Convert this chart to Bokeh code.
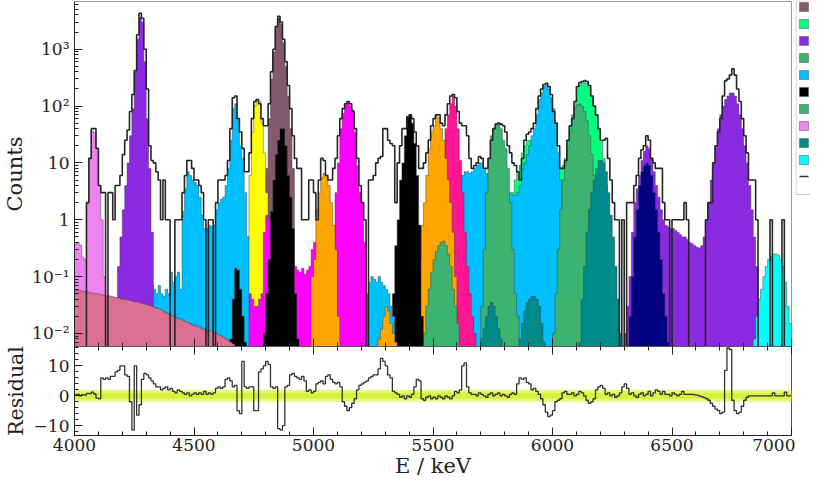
from bokeh.plotting import figure
from bokeh.layouts import column, row
from bokeh.models import (Range1d, LinearAxis, BoxAnnotation,
                          CustomJSTickFormatter, SingleIntervalTicker)
from bokeh.embed import file_html
from bokeh.resources import INLINE

E_START = 4000
BIN_WIDTH = 10
FLOOR = 1e-3
SERIF = "DejaVu Serif"

# ---------------- measured spectrum (counts per 10 keV bin, 4000-7000 keV) -------------
data_counts = [
    0, 0, 0, 0, 0, 2, 12, 40, 40, 18,
    4, 3, 3, 0, 3, 3, 1, 4, 4, 6,
    14, 25, 38, 80, 160, 420, 1800, 4300, 3500, 1000,
    200, 20, 11, 10, 7, 5, 1, 5, 1, 1,
    0, 0, 1, 1, 1, 3, 6, 11, 11, 8,
    5, 5, 4, 3, 1, 0, 1, 1, 0, 2,
    5, 5, 5, 6, 11, 40, 140, 150, 60, 35,
    18, 7, 7, 15, 60, 120, 130, 110, 60, 45,
    45, 110, 400, 1000, 2500, 3800, 3000, 1500, 600, 230,
    90, 30, 12, 8, 8, 1, 1, 1, 5, 5,
    3, 1, 5, 12, 11, 6, 5, 5, 8, 12,
    30, 60, 90, 110, 120, 110, 80, 40, 12, 4,
    2, 1, 0, 5, 5, 6, 10, 12, 13, 40,
    40, 25, 22, 20, 2, 10, 20, 40, 40, 65,
    70, 60, 35, 20, 8, 8, 10, 15, 25, 45,
    60, 70, 70, 50, 45, 70, 110, 150, 160, 140,
    80, 50, 45, 45, 30, 12, 8, 9, 10, 13,
    12, 8, 8, 12, 25, 40, 48, 50, 48, 45,
    35, 20, 15, 10, 9, 7, 5, 12, 25, 32,
    35, 40, 50, 90, 150, 200, 240, 250, 220, 160,
    80, 50, 20, 8, 8, 11, 25, 45, 60, 120,
    220, 260, 270, 280, 270, 230, 150, 100, 70, 40,
    25, 25, 27, 12, 5, 2, 1, 1, 0, 1,
    0, 2, 2, 2, 4, 6, 12, 17, 20, 30,
    25, 12, 10, 8, 8, 8, 2, 1, 1, 0,
    1, 1, 1, 1, 1, 2, 1, 0, 0, 0,
    0, 0, 0, 0, 1, 2, 2, 10, 20, 35,
    60, 150, 280, 300, 350, 450, 350, 200, 120, 60,
    30, 15, 5, 5, 5, 1, 0, 0, 0, 0,
    0, 1, 0, 0, 0, 0, 1, 0, 0, 0,
]

residuals = [
    0.3, 0.5, 0, 0.4, 0.2, 0.8, 0.7, 1.2, 0.6, -0.8,
    -1, 6, 5.5, 6, 5.5, 6.5, 6.5, 8, 8.5, 10,
    10, 7, 6.5, -2, -11.5, 10, -6.5, -3, 5.5, 7.5,
    7, 6, 5, 4, 3, 3, 2, 2.5, 3, 2,
    2.5, 1.5, 1, 2, 1.5, 1, 0.5, 1, 0, 0.5,
    1, 0.5, 1, 0.5, 1.5, 0.5, 1, 0.5, 1, 2.5,
    3, 2.5, 3, 5.5, 6, 5, 3, 3.5, -5, -6,
    11.5, 3, 2.5, 3, 3, -5, -5, 8, 9, 10,
    11.5, 10.5, 3, 2.5, 3, -11, -11.5, -10, 3, 3.5,
    7, 7.5, 6.5, 6, 5.5, 6.5, 5, 1.5, 2, 1,
    1.5, 4, 4.5, 5, 4, 6.5, 7, 5.5, 4.5, 4,
    4.5, 3, -2, -3.5, -5, -4, -2.5, -1, 2, 3.5,
    4, 4.5, 5, 6, 6.5, 7, 7, 9, 12.5, 11.5,
    10, 7, 6, 1.5, 1, 0.5, -0.5, 0, -1, 0,
    -0.5, 0.5, 3, 5.5, 5, -1, -1.5, -0.5, 0, -1,
    -0.5, -1, 0, -0.5, -1, 0, -0.5, -1, 0, 1.5,
    1, 2, 10, 11, 3, 1, 0.5, 0.5, 0, 1,
    0.5, 0, -0.5, 0.5, 1, 0, 0.5, 1, 0, 0.5,
    0, -0.5, 0.5, 1, 0.5, 4, 6, 5.5, 6, 4.5,
    4, 2, 2.5, 1.5, 0.5, -1, -3, -5.5, -7, -6.5,
    -5, -2, -1.5, -1, 1, 1.5, 0.5, 0.5, 1, 0,
    0.5, 1.5, 1, 0, -1.5, -2.5, -2, -1, 2, 3,
    3.5, 2.5, 0.5, 1, 0, 0.5, -0.5, 0, 1, 3,
    4, 2.5, 0.5, 1, 0, -0.5, 0.5, 1, 0, 0.5,
    1.5, 0, 1, 2, 1.5, 0.5, 1.5, 0.5, 0.5, 0,
    1, 0.5, 0, 0.5, 1.5, 0.5, 0.5, 0.5, 0.5, 0.3,
    0.2, 0, -0.3, -0.6, -1, -1.5, -2.5, -3.5, -4.5, -5,
    -6, -5.5, 8.5, 16, 15.5, -1.5, -5, -6, -5.5, -3.5,
    -1.5, -0.5, 0, 0, 0, 0, 0, 0, 0, 0,
    0, 0, 1, 0, 0, 0, 0, 1.2, 0, 0,
]
band_2sigma = 2
band_1sigma = 1

# ---------------- fitted components (first bin, visible top per bin) ----------------
bg_first = 0
bg_vals = [0.058, 0.057, 0.057, 0.055, 0.054, 0.054, 0.052, 0.051, 0.050, 0.050,
           0.049, 0.048, 0.047, 0.046, 0.046, 0.045, 0.044, 0.043, 0.042, 0.041,
           0.040, 0.040, 0.039, 0.038, 0.037, 0.036, 0.036, 0.035, 0.034, 0.033,
           0.032, 0.031, 0.030, 0.029, 0.028, 0.027, 0.026, 0.024, 0.023, 0.022,
           0.021, 0.020, 0.019, 0.018, 0.018, 0.017, 0.016, 0.016, 0.015, 0.014,
           0.014, 0.013, 0.013, 0.012, 0.012, 0.011, 0.011, 0.011, 0.010, 0.010,
           0.0095, 0.009, 0.0085, 0.008, 0.0075, 0.007, 0.0065]
violet_first = 0
violet_vals = [0.38, 0.40, 0.36, 0.22, 0.2, 2, 12, 36, 34, 18, 4, 1, 0.1]
bviolet1_first = 18
bviolet1_vals = [0.15, 0.5, 1.5, 4, 10, 30, 90, 400, 1500, 3600, 3000, 600, 60, 8, 0.6]
sky1_first = 25
sky1_vals = [0.05, 0.06, 0.07, 0.05, 0.06, 0.1, 0.08, 0.07, 0.06, 0.05,
             0.07, 0.05, 0.045, 0.06, 0.05, 0.12, 0.08, 0.1, 0.12, 0.06,
             1.4, 3.5, 7, 6, 5, 4.5, 4, 2.5, 1.2, 0.7,
             0.7, 0.8, 0.75, 0.8, 1.5, 2, 2.3, 2.5, 4, 8,
             25, 90, 110, 55, 20, 12, 3, 0.5]
black0_first = 65
black0_vals = [0.008, 0.04, 0.14, 0.13, 0.06, 0.02, 0.007]
yellow_first = 71
yellow_vals = [0.02, 0.5, 6, 35, 100, 130, 120, 50, 15, 3, 0.6, 0.08]
mauve_first = 79
mauve_vals = [0.5, 8, 60, 300, 900, 2400, 3500, 2800, 1300, 500, 150, 40, 8, 0.1]
black1_first = 79
black1_vals = [0.01, 0.05, 0.2, 1.4, 5, 14, 25, 40, 40, 20, 6, 2.5, 0.7, 0.05, 0.008]
magenta_first = 72
magenta_vals = [0.02, 0.05, 0.04, 0.03, 0.03, 0.04, 0.05, 0.6, 1.2, 1.0,
                0.8, 0.6, 0.4, 0.3, 0.3, 0.3, 0.35, 0.3, 0.25, 0.2,
                0.15, 0.13, 0.12, 0.14, 0.11, 0.13, 0.15, 0.3, 0.4, 0.3,
                0.2, 0.15, 0.1, 0.1, 0.12, 0.2, 0.5, 3, 10, 40,
                75, 110, 115, 100, 85, 35, 9, 3, 2, 0.4, 0.05]
orange1_first = 99
orange1_vals = [0.1, 0.2, 1.5, 3, 5.5, 6.5, 6, 4, 2, 0.8, 0.3, 0.02]
sky3_first = 122
sky3_vals = [0.03, 0.08, 0.1, 0.09, 0.08, 0.1, 0.08, 0.07, 0.06, 0.05, 0.03, 0.02]
orange3_first = 127
orange3_vals = [0.008, 0.012, 0.02, 0.03, 0.025, 0.015, 0.01, 0.007]
black2_first = 132
black2_vals = [0.01, 0.05, 0.35, 1, 5, 10, 30, 65, 70, 50, 22, 6, 0.8, 0.02]
orange2_first = 143
orange2_vals = [0.03, 0.2, 0.8, 2, 6, 18, 35, 45, 65, 62, 40, 25, 12, 5, 2, 0.6, 0.1]
green1_first = 146
green1_vals = [0.01, 0.03, 0.06, 0.12, 0.2, 0.28, 0.35, 0.4, 0.42, 0.35, 0.25, 0.15, 0.06, 0.03, 0.015]
pink_first = 153
pink_vals = [0.5, 10, 40, 70, 110, 150, 100, 40, 11, 3, 0.6, 0.15, 0.05, 0.02, 0.01]
sky2_first = 155
sky2_vals = [0.3, 0.6, 1, 1.5, 2, 3, 5, 6, 7, 7,
             6.5, 7, 8, 9, 10, 10, 8, 6.5, 5, 4,
             3, 2.5, 2, 2, 2, 2.5, 3, 3, 2.7, 2.7,
             3, 4, 8, 10, 14, 20, 30, 40, 70, 130,
             170, 220, 230, 200, 140, 90, 50, 15, 5, 1.5,
             0.5, 0.1, 0.02]
green2_first = 170
green2_vals = [0.03, 0.3, 3, 12, 30, 40, 45, 48, 40, 25, 18, 8, 2, 0.3, 0.05, 0.02]
teal1_first = 170
teal1_vals = [0.008, 0.012, 0.02, 0.03, 0.035, 0.03, 0.02, 0.012, 0.008]
teal2_first = 186
teal2_vals = [0.008, 0.015, 0.025, 0.035, 0.04, 0.045, 0.045, 0.04, 0.03, 0.015, 0.007]
spring_first = 183
spring_vals = [3, 5, 7, 9, 15, 20, 25, 25, 22, 20,
               18, 16, 14, 12, 11, 10, 10, 10, 9, 8,
               8, 9, 12, 25, 45, 60, 120, 200, 240, 255,
               260, 250, 210, 150, 100, 70, 40, 25, 12, 4,
               1, 0.2]
green3_first = 200
green3_vals = [0.01, 0.05, 0.3, 1.5, 5, 10, 18, 35, 70, 95,
               105, 110, 100, 80, 55, 30, 14, 6, 2, 0.5, 0.1]
teal3_first = 211
teal3_vals = [0.007, 0.04, 0.15, 0.6, 1.5, 3, 5, 8, 11, 11, 10, 7, 3, 1.2, 0.5, 0.15, 0.04, 0.01]
navy_first = 232
navy_vals = [0.02, 0.1, 0.5, 1.5, 4, 7, 9, 10, 9, 6, 3, 1.5, 0.6, 0.2, 0.05, 0.02, 0.007]
bviolet2_first = 230
bviolet2_vals = [0.01, 0.03, 0.1, 0.6, 2, 3.5, 6, 11, 16, 20,
                 18, 12, 7, 4, 2.5, 1.5, 1.0, 0.8, 0.75, 0.7,
                 0.7, 0.65, 0.6, 0.55, 0.5, 0.5, 0.45, 0.4, 0.38, 0.35,
                 0.33, 0.32, 0.35, 0.5, 1, 2, 5, 10, 20, 40,
                 70, 100, 130, 150, 170, 170, 150, 110, 70, 40,
                 20, 10, 4, 1.5, 0.5, 0.15, 0.04, 0.01]
cyan_first = 284
cyan_vals = [0.008, 0.02, 0.04, 0.06, 0.1, 0.15, 0.2, 0.23, 0.25, 0.25,
             0.24, 0.2, 0.15, 0.08, 0.03, 0.015]

# drawing order: back to front
components = [
    ("bviolet2", "#8A2BE2", bviolet2_first, bviolet2_vals),
    ("spring", "#00FF7F", spring_first, spring_vals),
    ("sky2", "#00BFFF", sky2_first, sky2_vals),
    ("green3", "#3CB371", green3_first, green3_vals),
    ("teal3", "#008B8B", teal3_first, teal3_vals),
    ("navy", "#000080", navy_first, navy_vals),
    ("cyan", "#00FFFF", cyan_first, cyan_vals),
    ("green2", "#3CB371", green2_first, green2_vals),
    ("teal1", "#008B8B", teal1_first, teal1_vals),
    ("teal2", "#008B8B", teal2_first, teal2_vals),
    ("pink", "#FF1493", pink_first, pink_vals),
    ("orange2", "#FFA500", orange2_first, orange2_vals),
    ("green1", "#3CB371", green1_first, green1_vals),
    ("black2", "#000000", black2_first, black2_vals),
    ("sky3", "#00BFFF", sky3_first, sky3_vals),
    ("orange3", "#FFA500", orange3_first, orange3_vals),
    ("mauve", "#82596F", mauve_first, mauve_vals),
    ("yellow", "#FFFF00", yellow_first, yellow_vals),
    ("magenta", "#FF00FF", magenta_first, magenta_vals),
    ("orange1", "#FFA500", orange1_first, orange1_vals),
    ("black1", "#000000", black1_first, black1_vals),
    ("sky1", "#00BFFF", sky1_first, sky1_vals),
    ("black0", "#000000", black0_first, black0_vals),
    ("bviolet1", "#8A2BE2", bviolet1_first, bviolet1_vals),
    ("violet", "#EE82EE", violet_first, violet_vals),
    ("bg", "#DB7093", bg_first, bg_vals),
]
# legend keys (the legend is cut by the right edge of the picture: only keys show)
legend_swatch_colors = ["#82596F", "#00FF7F", "#8A2BE2", "#3CB371", "#00BFFF",
                        "#000000", "#3CB371", "#EE82EE", "#008B8B", "#00FFFF"]
legend_line_color = "#333333"


def hist_outline(first_bin, vals, floor):
    left0 = E_START + first_bin * BIN_WIDTH
    xs, ys = [left0], [floor]
    r = left0
    for i, v in enumerate(vals):
        l = E_START + (first_bin + i) * BIN_WIDTH
        r = l + BIN_WIDTH
        yv = v if v > 0 else floor
        xs += [l, r]
        ys += [yv, yv]
    xs.append(r)
    ys.append(floor)
    return xs, ys


def style_axis(ax, labels=True):
    ax.major_tick_in = 8
    ax.major_tick_out = 0
    ax.minor_tick_in = 4
    ax.minor_tick_out = 0
    ax.axis_line_color = "#222222"
    ax.major_tick_line_color = "#222222"
    ax.minor_tick_line_color = "#222222"
    ax.major_label_text_font = SERIF
    ax.major_label_text_color = "#222222"
    ax.axis_label_text_font = SERIF
    ax.axis_label_text_font_style = "normal"
    ax.axis_label_text_font_size = "21px"
    ax.axis_label_text_color = "#222222"
    if labels:
        ax.major_label_text_font_size = "17px"
    else:
        ax.major_label_text_font_size = "0px"
        ax.major_label_standoff = 0


PLOT_W = 795        # page x 8..803 ; frame right edge at page x 799
LEG_W = 15          # page x 803..818
x_range = Range1d(E_START, E_START + BIN_WIDTH * len(data_counts))

main = figure(width=PLOT_W, height=346, x_range=x_range, y_axis_type="log",
              y_range=Range1d(0.0059, 6900), output_backend="svg",
              toolbar_location=None, min_border_left=65, min_border_right=4,
              min_border_top=1, min_border_bottom=0)
main.xgrid.visible = False
main.ygrid.visible = False
main.outline_line_color = "#999999"
main.background_fill_color = "white"

for name, color, first, vals in components:
    xs, ys = hist_outline(first, vals, FLOOR)
    main.patch(xs, ys, fill_color=color, line_color="#3a3a3a",
               line_alpha=0.45, line_width=1)

dx, dy = hist_outline(0, data_counts, FLOOR)
main.line(dx, dy, line_color="#262626", line_width=1.6)

style_axis(main.xaxis[0], labels=False)
main.xaxis[0].ticker = SingleIntervalTicker(interval=500, num_minor_ticks=5)
style_axis(main.yaxis[0])
main.yaxis[0].axis_label = "Counts"
main.yaxis[0].axis_label_standoff = 2
main.yaxis[0].major_label_standoff = 5
main.yaxis[0].formatter = CustomJSTickFormatter(code="""
    const e = Math.round(Math.log10(tick));
    const sup = {"-3": "\u207b\u00b3", "-2": "\u207b\u00b2", "-1": "\u207b\u00b9",
                 "2": "\u00b2", "3": "\u00b3", "4": "\u2074"};
    if (e == 0) return "1";
    if (e == 1) return "10";
    return "10" + sup[String(e)];
""")

# ---------------- residual panel ----------------
res = figure(width=PLOT_W, height=134, x_range=x_range, y_range=Range1d(-13.3, 16.5),
             output_backend="svg", toolbar_location=None, min_border_left=65,
             min_border_right=4, min_border_top=0, min_border_bottom=0)
res.xgrid.visible = False
res.ygrid.visible = False
res.outline_line_color = "#555555"

res.add_layout(BoxAnnotation(bottom=-band_2sigma, top=band_2sigma, fill_color="#eef77c",
                             fill_alpha=1, line_color=None, level="underlay"))
res.add_layout(BoxAnnotation(bottom=-band_1sigma, top=band_1sigma, fill_color="#d5f23e",
                             fill_alpha=1, line_color=None, level="underlay"))

rx, ry = [], []
for i, v in enumerate(residuals):
    l = E_START + i * BIN_WIDTH
    rx += [l, l + BIN_WIDTH]
    ry += [v, v]
res.line(rx, ry, line_color="#333333", line_width=1.3)

style_axis(res.xaxis[0])
res.xaxis[0].ticker = SingleIntervalTicker(interval=500, num_minor_ticks=5)
res.xaxis[0].axis_label = "E / keV"
res.xaxis[0].axis_label_standoff = 0
res.xaxis[0].major_label_standoff = 3
top_ax = LinearAxis(ticker=SingleIntervalTicker(interval=500, num_minor_ticks=5))
style_axis(top_ax, labels=False)
top_ax.axis_line_color = None
res.add_layout(top_ax, "above")

style_axis(res.yaxis[0])
res.yaxis[0].ticker = SingleIntervalTicker(interval=10, num_minor_ticks=5)
res.yaxis[0].axis_label = "Residual"
res.yaxis[0].axis_label_text_font_size = "20.5px"
res.yaxis[0].axis_label_standoff = 3
res.yaxis[0].major_label_standoff = 5
res.yaxis[0].formatter = CustomJSTickFormatter(
    code="return tick < 0 ? '\u2212' + String(Math.abs(tick)) : String(tick);")

# ---------------- legend strip (cut by the page edge) ----------------
LEG_H = 196
PITCH, KEY = 17, 9
leg = figure(width=LEG_W, height=LEG_H, x_range=Range1d(0, LEG_W), y_range=Range1d(LEG_H, 0),
             output_backend="svg", toolbar_location=None, x_axis_location=None,
             y_axis_location=None, min_border=0, outline_line_color=None)
leg.xgrid.visible = False
leg.ygrid.visible = False
leg.quad(left=[0.5], right=[LEG_W + 5], top=[0.5], bottom=[LEG_H - 2],
         fill_color="white", line_color="#c8c8c8", line_width=1)
key_tops = [2 + k * PITCH for k in range(len(legend_swatch_colors))]
leg.quad(left=[4] * len(key_tops), right=[4 + KEY] * len(key_tops), top=key_tops,
         bottom=[t + KEY for t in key_tops], fill_color=legend_swatch_colors,
         line_color="#555555", line_alpha=0.5, line_width=1)
line_y = 2 + len(legend_swatch_colors) * PITCH + 4
leg.segment(x0=[4], x1=[4 + KEY], y0=[line_y], y1=[line_y],
            line_color=legend_line_color, line_width=1.5)

layout = row(column(main, res, spacing=0), leg, spacing=0)
open("out.html", "w").write(file_html(layout, INLINE))
